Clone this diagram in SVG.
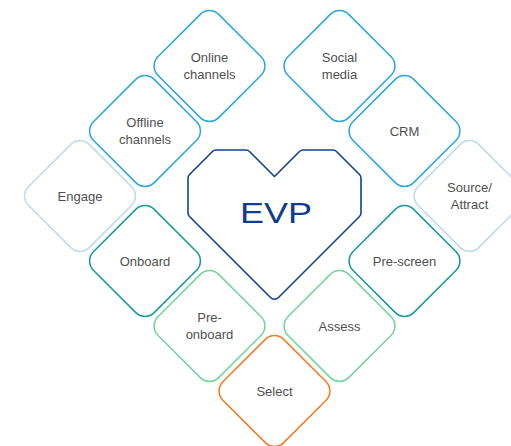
<svg xmlns="http://www.w3.org/2000/svg" width="511" height="446" viewBox="0 0 511 446">
<style>
.d{fill:#fff;stroke-width:1.5}
.blue{stroke:#2aa6dc}
.lblue{stroke:#b9dcea}
.teal{stroke:#15999a}
.green{stroke:#72d49d}
.orange{stroke:#f27a22}
.t{font-family:"Liberation Sans",Arial,sans-serif;font-size:13px;fill:#505050;text-anchor:middle}
</style>
<defs>
<rect id="dia" x="-43" y="-43" width="86" height="86" rx="13" ry="13" transform="rotate(45)"/>
</defs>
<rect width="511" height="446" fill="#fff"/>
<g id="online-channels" transform="translate(209.5,66)">
<use href="#dia" class="d blue"/>
<text class="t" y="-4">Online</text><text class="t" y="13">channels</text>
</g>
<g id="social-media" transform="translate(339.5,66)">
<use href="#dia" class="d blue"/>
<text class="t" y="-4">Social</text><text class="t" y="13">media</text>
</g>
<g id="offline-channels" transform="translate(145,131)">
<use href="#dia" class="d blue"/>
<text class="t" y="-4">Offline</text><text class="t" y="13">channels</text>
</g>
<g id="crm" transform="translate(404.5,131)">
<use href="#dia" class="d blue"/>
<text class="t" y="5">CRM</text>
</g>
<g id="engage" transform="translate(80,196)">
<use href="#dia" class="d lblue"/>
<text class="t" y="5">Engage</text>
</g>
<g id="source-attract" transform="translate(469.5,196)">
<use href="#dia" class="d lblue"/>
<text class="t" y="-4">Source/</text><text class="t" y="13">Attract</text>
</g>
<g id="onboard" transform="translate(145,261)">
<use href="#dia" class="d teal"/>
<text class="t" y="5">Onboard</text>
</g>
<g id="pre-screen" transform="translate(404.5,261)">
<use href="#dia" class="d teal"/>
<text class="t" y="5">Pre-screen</text>
</g>
<g id="pre-onboard" transform="translate(209.5,326)">
<use href="#dia" class="d green"/>
<text class="t" y="-4">Pre-</text><text class="t" y="13">onboard</text>
</g>
<g id="assess" transform="translate(339.5,326)">
<use href="#dia" class="d green"/>
<text class="t" y="5">Assess</text>
</g>
<g id="select" transform="translate(274.5,391)">
<use href="#dia" class="d orange"/>
<text class="t" y="5">Select</text>
</g>
<g id="evp">
<path d="M216,150 L246,150 Q248,150 249.5,151.5 L274.5,176.5 L299.5,151.5 Q301,150 303,150 L333,150 Q335,150 336.5,151.5 L359.5,174.5 Q361,176 361,178 L361,213 Q361,215 359.5,216.5 L279,297 Q274.5,301.5 270,297 L189.5,216.5 Q188,215 188,213 L188,178 Q188,176 189.5,174.5 L212.5,151.5 Q214,150 216,150 Z" fill="#fff" stroke="#14418f" stroke-width="1.6" stroke-linejoin="round"/>
<text x="276" y="223" font-family="Liberation Sans,Arial,sans-serif" font-size="29" fill="#0f3d8c" text-anchor="middle" textLength="72" lengthAdjust="spacingAndGlyphs">EVP</text>
</g>
</svg>
